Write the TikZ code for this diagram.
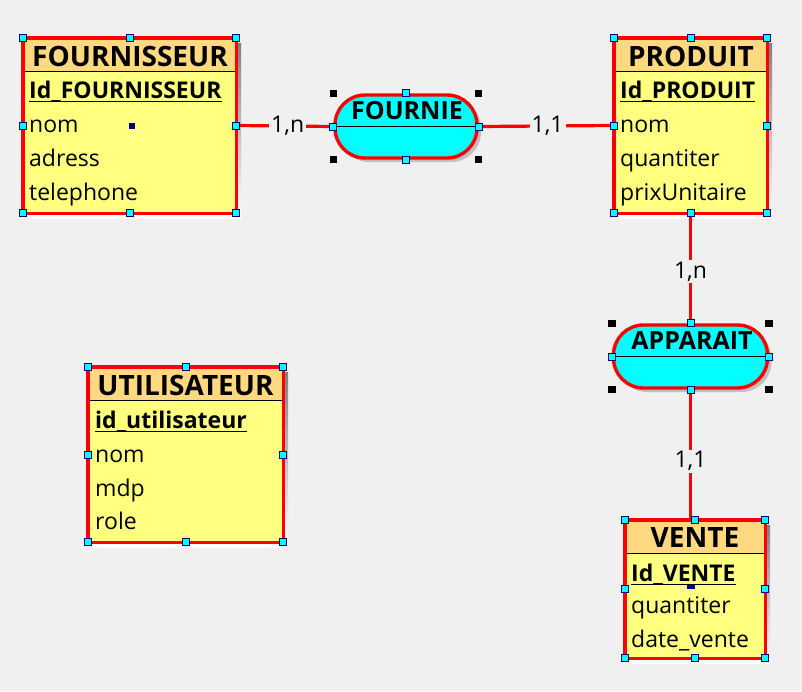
\documentclass[tikz,border=0pt]{standalone}
\usepackage{fontspec}
\setmainfont{Open Sans}

\definecolor{bgcol}{HTML}{F0F0F0}
\definecolor{entfill}{HTML}{FFFF80}
\definecolor{headfill}{HTML}{FFD980}
\definecolor{relfill}{HTML}{00FFFF}
\definecolor{shade}{HTML}{C0C0C0}
\definecolor{handle}{HTML}{000080}

\begin{document}
\begin{tikzpicture}[%
  x=1pt, y=-1pt,
  entity/.style = {fill=entfill, inner sep=0pt},
  border/.style = {draw=red, line width=3.4pt},
  relbox/.style = {draw=red, line width=3.4pt, fill=relfill, rounded corners=30pt,
                   minimum height=63pt, inner sep=0pt},
  title/.style  = {font=\fontsize{28}{30}\selectfont\bfseries, inner sep=0pt, anchor=base},
  reltitle/.style = {font=\fontsize{25}{28}\selectfont\bfseries, inner sep=0pt, anchor=base},
  key/.style    = {font=\fontsize{23}{26}\selectfont\bfseries, inner sep=0pt, anchor=base west},
  attr/.style   = {font=\fontsize{23}{26}\selectfont, inner sep=0pt, anchor=base west},
  card/.style   = {font=\fontsize{23}{26}\selectfont, fill=bgcol, inner sep=2pt},
  link/.style   = {draw=red, line width=3.2pt},
  grip/.style   = {draw=handle, fill=relfill, line width=1pt, minimum size=7pt, inner sep=0pt},
  corner/.style = {fill=black, minimum size=7.5pt, inner sep=0pt},
]
  \fill[bgcol] (0,0) rectangle (802,691);
  \useasboundingbox (0,0) rectangle (802,691);

  % FOURNISSEUR
  \fill[shade] (28,43) rectangle (241,218);
  \node[entity, minimum width=213pt, minimum height=175pt] (fournisseur) at (129.5,125.5) {};
  \fill[headfill] (23,38) rectangle (236,71);
  \draw[thin] (23,71) -- (236,71);
  \draw[border] (fournisseur.north west) rectangle (fournisseur.south east);
  \node[title] (titleF) at (130,66) {FOURNISSEUR};
  \node[key] (idF) at (29,98) {Id\_FOURNISSEUR};
  \draw[thick] (idF.south west) -- (idF.south east);
  \node[attr] (nomF) at (29,132) {nom};
  \node[attr] (adressF) at (29,166) {adress};
  \node[attr] (telF) at (29,200) {telephone};
  \fill[handle] (129,123) rectangle (135,129);

  % PRODUIT
  \fill[shade] (619,43) rectangle (772,218);
  \node[entity, minimum width=153pt, minimum height=175pt] (produit) at (690.5,125.5) {};
  \fill[headfill] (614,38) rectangle (767,71);
  \draw[thin] (614,71) -- (767,71);
  \draw[border] (produit.north west) rectangle (produit.south east);
  \node[title] (titleP) at (691,66) {PRODUIT};
  \node[key] (idP) at (620,98) {Id\_PRODUIT};
  \draw[thick] (idP.south west) -- (idP.south east);
  \node[attr] (nomP) at (620,132) {nom};
  \node[attr] (qteP) at (620,166) {quantiter};
  \node[attr] (prixP) at (620,200) {prixUnitaire};

  % UTILISATEUR
  \fill[shade] (93,372) rectangle (288,547);
  \node[entity, minimum width=195pt, minimum height=175pt] (utilisateur) at (185.5,454.5) {};
  \fill[headfill] (88,367) rectangle (283,400);
  \draw[thin] (88,400) -- (283,400);
  \draw[border] (utilisateur.north west) rectangle (utilisateur.south east);
  \node[title] (titleU) at (185.5,395) {UTILISATEUR};
  \node[key] (idU) at (95,428) {id\_utilisateur};
  \draw[thick] (idU.south west) -- (idU.south east);
  \node[attr] (nomU) at (95,462) {nom};
  \node[attr] (mdpU) at (95,496) {mdp};
  \node[attr] (roleU) at (95,529) {role};

  % VENTE
  \fill[shade] (630,525) rectangle (770,663);
  \node[entity, minimum width=140pt, minimum height=138pt] (vente) at (695,589) {};
  \fill[headfill] (625,520) rectangle (765,553);
  \draw[thin] (625,553) -- (765,553);
  \draw[border] (vente.north west) rectangle (vente.south east);
  \node[title] (titleV) at (695,547) {VENTE};
  \node[key] (idV) at (631,581) {Id\_VENTE};
  \draw[thick] (idV.south west) -- (idV.south east);
  \node[attr] (qteV) at (631,613) {quantiter};
  \node[attr] (dateV) at (631,647) {date\_vente};
  \fill[handle] (687,585) rectangle (695,589);

  % associations
  \node[relbox, draw=none, fill=shade, minimum width=142pt] at (410,130.5) {};
  \node[relbox, minimum width=142pt] (fournie) at (406,126.5) {};
  \draw[thin] (fournie.west) -- (fournie.east);
  \node[reltitle] (titleFo) at (407,119) {FOURNIE};

  \node[relbox, draw=none, fill=shade, minimum width=154pt] at (694.5,360.5) {};
  \node[relbox, minimum width=154pt] (apparait) at (690.5,356.5) {};
  \draw[thin] (apparait.west) -- (apparait.east);
  \node[reltitle] (titleAp) at (692,349) {APPARAIT};

  % links
  \draw[link] (fournisseur.east) -- node[card, pos=0.53] {1,n} (fournie.west);
  \draw[link] (fournie.east) -- node[card, pos=0.51] {1,1} (produit.west);
  \draw[link] (produit.south) -- node[card, pos=0.53] {1,n} (apparait.north);
  \draw[link] (apparait.south) -- node[card, pos=0.55] {1,1} (apparait.south |- vente.north);

  % handles
  \foreach \e in {fournisseur,produit,utilisateur,vente}
    \foreach \a in {north west,north,north east,west,east,south west,south,south east}
      \node[grip] at (\e.\a) {};
  \foreach \r in {fournie,apparait} {
    \foreach \a in {north west,north east,south west,south east}
      \node[corner] at (\r.\a) {};
    \foreach \a in {north,south,west,east}
      \node[grip] at (\r.\a) {};
  }
\end{tikzpicture}
\end{document}
